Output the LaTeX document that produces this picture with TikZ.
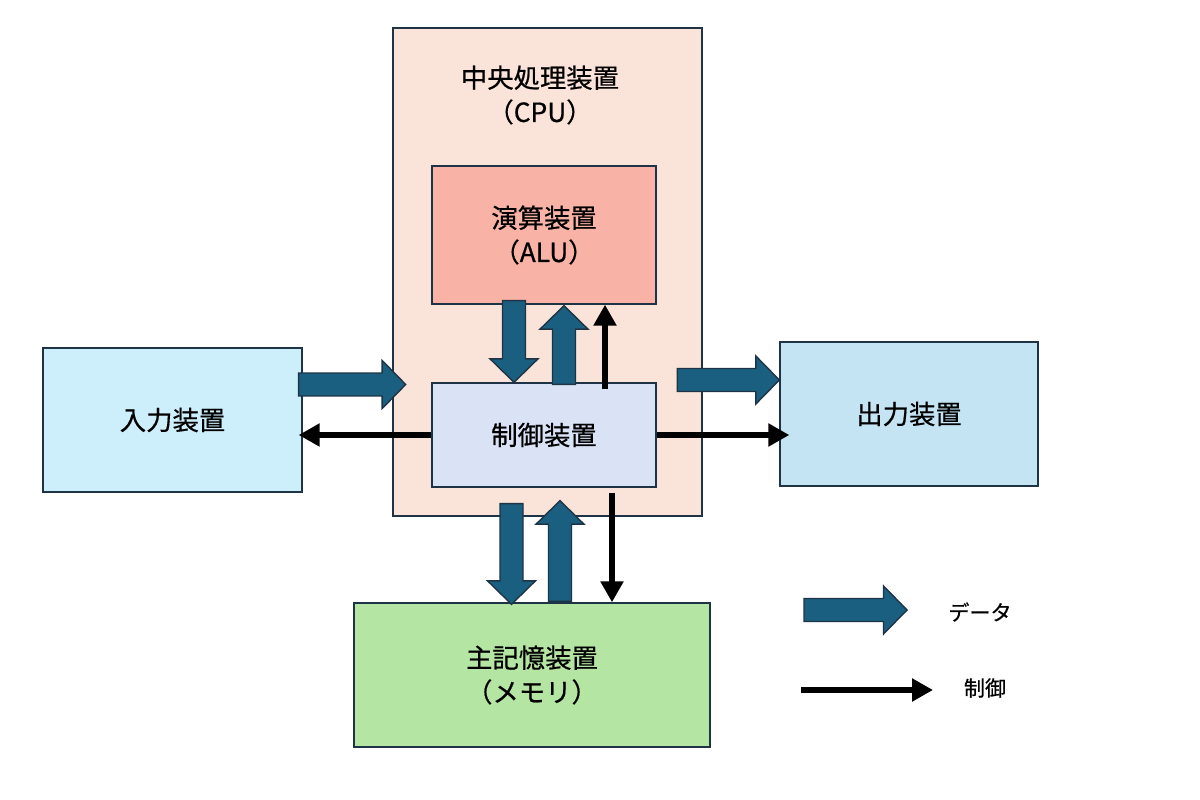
\documentclass[tikz,border=0pt]{standalone}
\usepackage{fontspec}
\setmainfont{Noto Sans CJK JP}[FakeBold=0.6]
\usepackage{xcolor}
\usepackage{tikz}
\usetikzlibrary{arrows.meta,calc}
\definecolor{cpupeach}{RGB}{250,227,216}
\definecolor{alusalmon}{RGB}{248,179,166}
\definecolor{ctrlblue}{RGB}{218,227,245}
\definecolor{inpcyan}{RGB}{205,238,251}
\definecolor{outpblue}{RGB}{196,227,243}
\definecolor{memgreen}{RGB}{180,229,162}
\definecolor{edgedark}{RGB}{30,52,70}
\definecolor{datateal}{RGB}{27,95,128}
\newcommand{\dataarrow}[2]{%
  \path ($(#2)!0.47cm!(#1)$) coordinate (dh);
  \draw[data] ($(#1)!0.23cm!90:(#2)$) -- ($(dh)!0.23cm!90:(#2)$) -- ($(dh)!0.48cm!90:(#2)$) -- (#2)
    -- ($(dh)!0.48cm!-90:(#2)$) -- ($(dh)!0.23cm!-90:(#2)$) -- ($(#1)!0.23cm!-90:(#2)$) -- cycle;}

\begin{document}
\begin{tikzpicture}[x=0.02cm,y=-0.02cm,font=\fontsize{15}{19.5}\selectfont]
\tikzstyle{unit}=[draw=edgedark,line width=0.8pt,align=center,inner sep=0pt]
\tikzstyle{data}=[draw=edgedark,line width=0.8pt,fill=datateal,line join=miter]
\tikzstyle{ctl}=[line width=3pt,-{Triangle[length=0.42cm,width=0.44cm]}]
\useasboundingbox (0,0) rectangle (1200,800);
\node[unit,fill=cpupeach,minimum width=6.18cm,minimum height=9.76cm] (cpu) at (547.5,272) {};
\node[align=center] (cputitle) at (540,95) {中央処理装置\\（CPU）};
\node[unit,fill=alusalmon,minimum width=4.48cm,minimum height=2.76cm] (alu) at (544,235) {演算装置\\（ALU）};
\node[unit,fill=ctrlblue,minimum width=4.48cm,minimum height=2.08cm] (ctrl) at (544,435) {制御装置};
\node[unit,fill=inpcyan,minimum width=5.18cm,minimum height=2.88cm] (inp) at (172.5,420) {入力装置};
\node[unit,fill=outpblue,minimum width=5.16cm,minimum height=2.88cm] (outp) at (909,414) {出力装置};
\node[unit,fill=memgreen,minimum width=7.12cm,minimum height=2.88cm] (mem) at (532,675) {主記憶装置\\（メモリ）};
% data paths
\coordinate (a1) at ($(alu.south)+(-30,-4)$);
\coordinate (c1) at ($(ctrl.north)+(-30,0)$);
\coordinate (c2) at ($(ctrl.north)+(20,2)$);
\coordinate (a2) at ($(alu.south)+(20,1)$);
\coordinate (i1) at ($(inp.east)+(-4,-35.5)$);
\coordinate (i2) at ($(inp.east)+(103,-35.5)$);
\coordinate (o1) at ($(outp.west)+(-102,-34)$);
\coordinate (o2) at ($(outp.west)+(0,-34)$);
\coordinate (c3) at ($(ctrl.south)+(-32.5,16)$);
\coordinate (m1) at ($(mem.north)+(-20.5,2)$);
\coordinate (m2) at ($(mem.north)+(28,-1)$);
\coordinate (c4) at ($(ctrl.south)+(16,13)$);
\dataarrow{a1}{c1}
\dataarrow{c2}{a2}
\dataarrow{i1}{i2}
\dataarrow{o1}{o2}
\dataarrow{c3}{m1}
\dataarrow{m2}{c4}
% control paths
\draw[ctl] ($(ctrl.north)+(61,7)$) -- ($(alu.south)+(61,0)$);
\draw[ctl] (ctrl.west) -- ($(ctrl.west -| inp.east)+(-4,0)$);
\draw[ctl] (ctrl.east) -- ($(ctrl.east -| outp.west)+(10,0)$);
\draw[ctl] ($(ctrl.south)+(68,5)$) -- ($(mem.north)+(80,0)$);
% legend
\node[font=\fontsize{12}{14}\selectfont] (legdatatxt) at (980,612) {データ};
\node[font=\fontsize{12}{14}\selectfont] (legctltxt) at (985,688) {制御};
\coordinate (ld1) at (804,610);
\coordinate (ld2) at (907,610);
\dataarrow{ld1}{ld2}
\coordinate (lc1) at (801,690);
\coordinate (lc2) at (933,690);
\draw[ctl] (lc1) -- (lc2);
\end{tikzpicture}
\end{document}
